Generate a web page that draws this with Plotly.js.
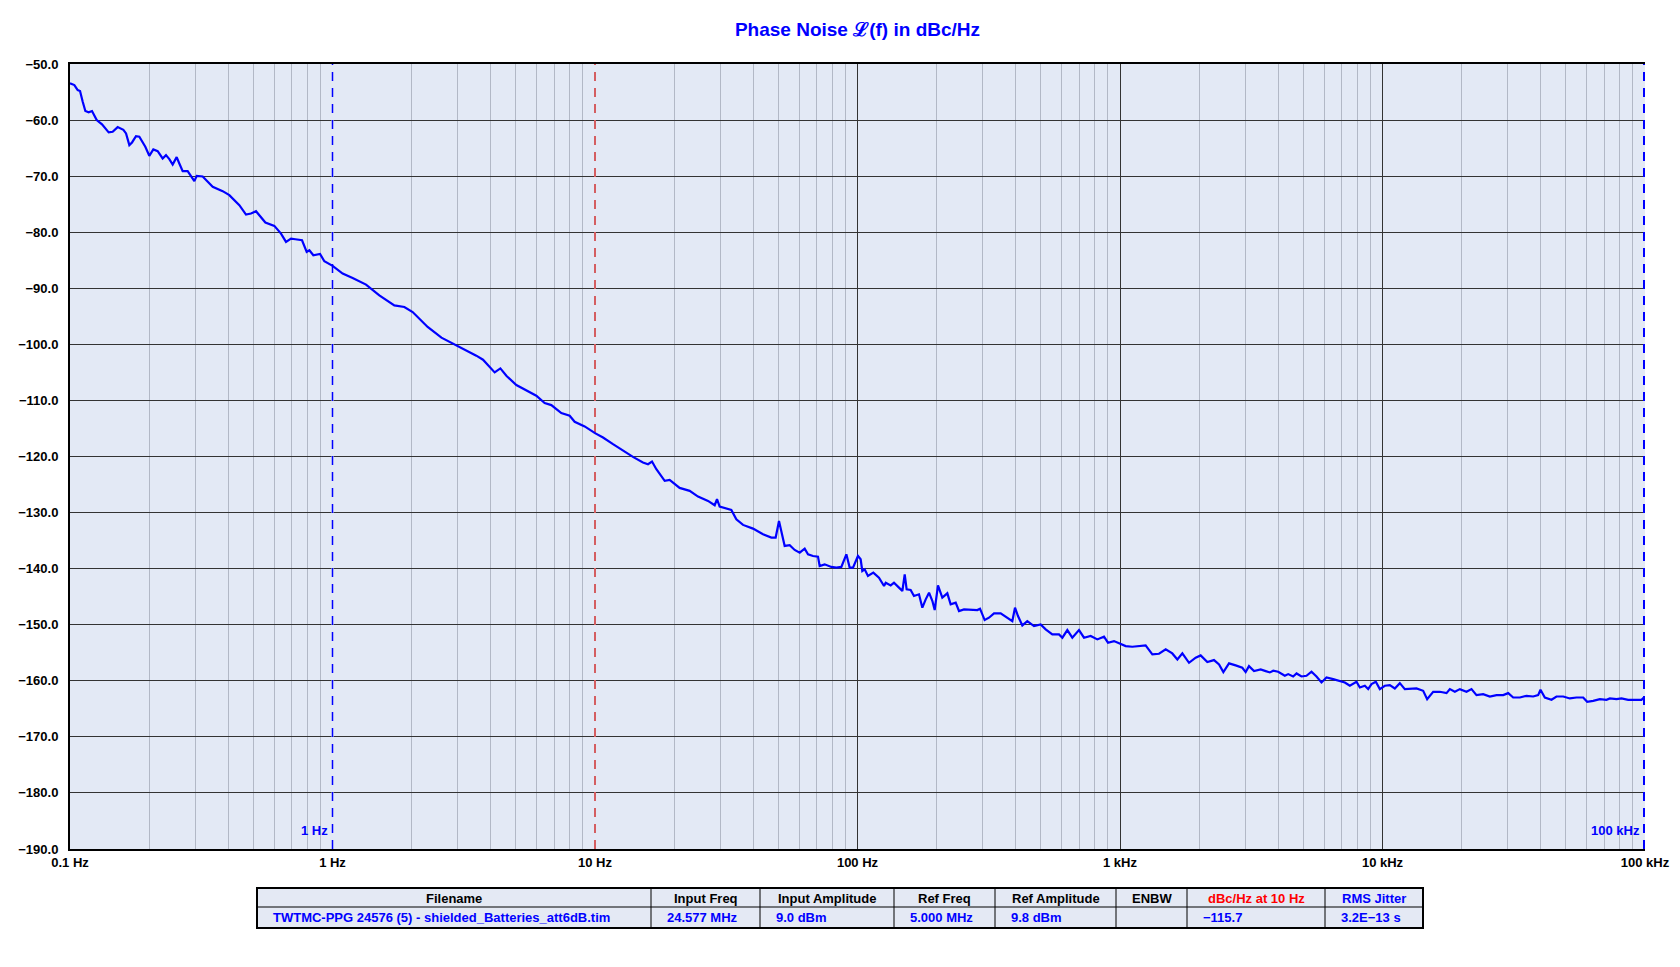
<!DOCTYPE html>
<html>
<head>
<meta charset="utf-8">
<script src="https://cdn.plot.ly/plotly-3.0.1.min.js"></script>
<style>html,body{margin:0;padding:0;background:#fff;}#chart{width:1680px;height:967px;}</style>
</head>
<body>
<div id="chart"></div>
<script>
// ---- data ----
const freqHz = [
0.1,0.1039,0.107,0.1092,0.1118,0.1144,0.1178,0.1213,0.1264,0.1324,0.1404,0.1454,0.1519,0.1597,0.1635,0.1683,0.1723,0.1784,0.1837,0.1936,
0.2005,0.2077,0.2158,0.2254,0.2321,0.239,0.2461,0.2549,0.2609,0.2687,0.2807,0.2891,0.2977,0.3039,0.3202,0.3496,0.3816,0.4046,0.4417,0.4683,
0.4891,0.5111,0.5263,0.5549,0.6004,0.6365,0.6651,0.695,0.7219,0.7654,0.7974,0.8163,0.8453,0.8964,0.9309,1.001,1.093,1.193,1.342,1.508,
1.72,1.878,2.02,2.304,2.6,2.93,3.1,
3.331,3.531,3.744,3.97,4.148,4.36,4.596,5.017,5.474,5.976,6.431,6.818,7.442,8.008,8.365,9.134,10.0,10.73,11.71,12.78,
13.95,15.23,15.92,16.49,17.13,18.43,19.25,21.01,22.94,24.69,26.95,28.57,29.16,29.85,31.64,33.06,34.55,36.64,39.99,43.65,
46.96,48.78,50.23,51.26,52.79,55.16,57.64,60.22,62.92,64.79,67.7,70.71,71.76,74.98,79.49,83.06,86.78,90.69,93.37,96.14,100.4,
102.8,104.3,106.5,109.6,114.9,120.7,126.2,128.1,133.8,137.7,143.9,148.2,151.3,153.9,159.4,164.1,171.5,176.6,181.9,187.3,
192.9,196.8,202.6,210.4,219.9,226.4,236.6,243.6,254.5,269.9,286.1,292.9,305.1,316.9,331.1,351.1,372.3,388.9,398.1,408.7,
424.5,443.6,470.3,498.6,521,552.4,585.6,603.1,630,658.2,697.9,729.2,773.1,819.7,869,900,948.7,1000,1051,1114,
1181,1252,1328,1408,1493,1582,1654,1728,1832,1942,2029,2151,2281,2384,2476,2602,2758,2924,3011,3100,3240,3435,3589,
3723,3834,4005,4245,4372,4567,4705,4913,5134,5364,5605,5856,6118,6487,6879,7186,7508,7961,8198,8564,
8819,9081,9432,9768,10206,10664,11142,11641,12163,12897,13476,14288,14796,15597,16537,17535,18055,18865,19710,20893,
21827,22806,24183,25643,27190,28832,30121,31468,33369,35383,37497,39173,39987,41532,44039,46016,48791,51729,54828,58131,
60218,63474,67293,71339,73451,77880,81376,86272,90136,94189,96985,98990,100000
];
const phaseNoiseDbcHz = [
-53.45,-53.75,-54.64,-54.82,-56.73,-58.39,-58.63,-58.39,-60.0,-60.77,-62.2,-62.08,-61.25,-61.73,-62.38,-64.46,-63.99,-62.86,-62.98,-64.76,
-66.37,-65.24,-65.54,-66.85,-66.25,-66.96,-67.92,-66.61,-67.74,-69.11,-69.11,-70.12,-70.89,-69.94,-70.06,-71.9,-72.68,-73.39,-75.18,-76.85,
-76.67,-76.25,-76.96,-78.27,-78.87,-80.24,-81.73,-81.13,-81.25,-81.43,-83.51,-83.21,-84.11,-83.87,-85.18,-86.01,-87.38,-88.15,-89.35,-91.25,
-93.04,-93.33,-94.23,-96.9,-98.8,-100.0,-100.6,
-101.43,-102.02,-102.74,-104.11,-105.0,-104.29,-105.6,-107.26,-108.15,-109.17,-110.48,-110.83,-112.26,-112.74,-113.81,-114.64,-115.83,-116.61,-117.8,-118.99,
-120.06,-121.07,-121.37,-120.89,-122.26,-124.35,-124.17,-125.6,-126.13,-127.14,-127.92,-128.69,-127.62,-128.93,-129.29,-129.52,-131.19,-132.2,-132.86,-133.87,
-134.46,-134.46,-131.49,-133.57,-135.95,-135.83,-136.67,-137.14,-136.43,-137.44,-137.74,-137.86,-139.52,-139.23,-139.7,-139.82,-139.7,-137.44,-139.82,-139.82,-137.74,
-138.33,-140.42,-140.12,-141.31,-140.71,-141.61,-143.1,-142.5,-142.98,-142.5,-143.39,-143.99,-141.01,-143.69,-143.81,-144.88,-144.58,-146.96,-145.48,-144.29,
-145.77,-147.38,-142.98,-145.18,-144.4,-146.37,-146.07,-147.56,-147.26,-147.38,-147.38,-147.14,-149.17,-148.75,-147.98,-147.98,-148.75,-149.35,-146.96,-148.45,
-150.12,-149.35,-150.24,-149.94,-150.83,-151.73,-151.73,-152.32,-150.95,-152.32,-150.95,-152.32,-152.02,-152.62,-152.14,-153.21,-152.92,-153.33,-153.81,-153.93,
-153.81,-153.69,-155.3,-155.18,-154.4,-155.12,-156.19,-155.12,-156.79,-155.89,-155.48,-156.67,-156.31,-157.08,-158.45,-156.9,-157.26,-157.68,-158.45,-157.38,-158.27,-157.98,-158.27,
-158.51,-158.21,-158.39,-159.11,-158.81,-159.23,-158.69,-159.23,-159.11,-158.39,-159.23,-160.3,-159.4,-159.7,-160.0,-160.3,-160.89,-160.18,-161.19,-160.89,
-161.49,-160.6,-160.18,-161.49,-160.89,-160.77,-161.37,-160.42,-161.49,-161.37,-161.37,-161.79,-163.27,-161.96,-161.96,-162.2,-161.49,-161.96,-161.49,-161.96,
-161.49,-162.56,-162.38,-162.8,-162.56,-162.56,-162.2,-162.98,-162.98,-162.68,-162.8,-162.56,-161.61,-162.98,-163.39,-162.8,-162.8,-163.15,-162.98,-162.98,
-163.75,-163.57,-163.27,-163.39,-163.15,-163.27,-163.15,-163.39,-163.39,-163.27,-163.39,-162.98,-163.2
];
const decadeTicks = [0.1, 1, 10, 100, 1000, 10000, 100000];
const decadeLabels = ['0.1 Hz', '1 Hz', '10 Hz', '100 Hz', '1 kHz', '10 kHz', '100 kHz'];
const markerFreqs = [1, 10, 100000];
const markerLabels = ['1 Hz', '', '100 kHz'];

const tableHeaders = ['Filename', 'Input Freq', 'Input Amplitude', 'Ref Freq', 'Ref Amplitude', 'ENBW', 'dBc/Hz at 10 Hz', 'RMS Jitter'];
const tableValues = ['TWTMC-PPG 24576 (5) - shielded_Batteries_att6dB.tim', '24.577 MHz', '9.0 dBm', '5.000 MHz', '9.8 dBm', '', '\u2212115.7', '3.2E\u221213 s'];
const tableHeaderColors = ['#000000', '#000000', '#000000', '#000000', '#000000', '#000000', '#ff0000', '#0000ff'];
const tableColumnWidths = [394, 109, 134, 101, 121, 71, 138, 98];

// ---- styling / geometry ----
const BG = '#e3e9f5';
const FONT = 'Liberation Sans, Arial, sans-serif';
const W = 1680, H = 967, ML = 70, MR = 35, MT = 64, MB = 10;
const PW = W - ML - MR, PH = H - MT - MB;
const px2x = px => (px - ML) / PW;
const px2y = py => (H - MB - py) / PH;

const minorVals = [];
for (let d = 0; d < decadeTicks.length - 1; d++) {
  for (let k = 2; k <= 9; k++) minorVals.push(decadeTicks[d] * k);
}

const traces = [
  {
    type: 'scatter', mode: 'lines', x: freqHz, y: phaseNoiseDbcHz,
    line: {color: '#0000ff', width: 2.2}, hoverinfo: 'skip'
  }
];

const shapes = [];
const annotations = [];

markerFreqs.forEach((f, i) => {
  shapes.push({type: 'line', xref: 'x', yref: 'y', x0: f, x1: f, y0: -190, y1: -50, layer: 'between',
    line: {color: BG, width: 2}});
  shapes.push({type: 'line', xref: 'x', yref: 'y', x0: f, x1: f, y0: -190, y1: -50, layer: 'between',
    line: {color: f === 10 ? '#d03030' : '#0000ff', width: f === 100000 ? 4 : 1.5, dash: '9px,7px'}});
  if (markerLabels[i]) {
    annotations.push({x: Math.log10(f), y: -186.7, xref: 'x', yref: 'y', text: markerLabels[i], showarrow: false,
      xanchor: 'right', yanchor: 'middle', xshift: -3,
      font: {family: FONT, size: 13, color: '#0000ff', weight: 'bold'}});
  }
});

// ---- info table (drawn with shapes + text) ----
const tLeft = 257, tTop = 888, tMid = 907, tBot = 928;
let tRight = tLeft;
tableColumnWidths.forEach(w => tRight += w);
shapes.push({type: 'rect', xref: 'paper', yref: 'paper', x0: px2x(tLeft), x1: px2x(tRight), y0: px2y(tBot), y1: px2y(tTop),
  fillcolor: '#e4e9f4', line: {width: 0}, layer: 'below'});
shapes.push({type: 'line', xref: 'paper', yref: 'paper', x0: px2x(tLeft), x1: px2x(tRight), y0: px2y(tMid), y1: px2y(tMid),
  line: {color: '#000000', width: 1}});
let cx = tLeft;
tableColumnWidths.forEach((w, i) => {
  if (i > 0) {
    shapes.push({type: 'line', xref: 'paper', yref: 'paper', x0: px2x(cx), x1: px2x(cx), y0: px2y(tBot), y1: px2y(tTop),
      line: {color: '#000000', width: 1}});
  }
  annotations.push({xref: 'paper', yref: 'paper', x: px2x(cx + w / 2), y: px2y((tTop + tMid) / 2 + 0.5),
    text: tableHeaders[i], showarrow: false, xanchor: 'center', yanchor: 'middle',
    font: {family: FONT, size: 13, color: tableHeaderColors[i], weight: 'bold'}});
  if (tableValues[i]) {
    annotations.push({xref: 'paper', yref: 'paper', x: px2x(cx + 14), y: px2y((tMid + tBot) / 2),
      text: tableValues[i], showarrow: false, xanchor: 'left', yanchor: 'middle',
      font: {family: FONT, size: 13, color: '#0000ff', weight: 'bold'}});
  }
  cx += w;
});
shapes.push({type: 'rect', xref: 'paper', yref: 'paper', x0: px2x(tLeft), x1: px2x(tRight), y0: px2y(tBot), y1: px2y(tTop),
  line: {color: '#000000', width: 2}});

const layout = {
  width: W, height: H,
  margin: {l: ML, r: MR, t: MT, b: MB, pad: 0},
  paper_bgcolor: '#ffffff', plot_bgcolor: BG, showlegend: false,
  title: {text: 'Phase Noise \u2112(f) in dBc/Hz', x: 0.5, xref: 'paper', xanchor: 'center',
    y: 1 - 29 / H, yref: 'container', yanchor: 'middle',
    font: {family: FONT, size: 19, color: '#0000ff', weight: 'bold'}},
  xaxis: {
    type: 'log', range: [-1, 5], domain: [0, 1],
    tickmode: 'array', tickvals: decadeTicks, ticktext: decadeLabels, ticks: '',
    tickfont: {family: FONT, size: 13, color: '#000000', weight: 'bold'},
    showgrid: true, gridcolor: '#333333', gridwidth: 1,
    minor: {tickmode: 'array', tickvals: minorVals, showgrid: true, gridcolor: '#b2b8c6', gridwidth: 1, ticks: ''},
    showline: true, linecolor: '#000000', linewidth: 2, mirror: true, zeroline: false, fixedrange: true
  },
  yaxis: {
    range: [-190, -50], domain: [px2y(849), 1],
    tickmode: 'linear', tick0: -50, dtick: 10, tickformat: '.1f', ticks: '',
    tickfont: {family: FONT, size: 13, color: '#000000', weight: 'bold'},
    ticklabelstandoff: 7,
    showgrid: true, gridcolor: '#333333', gridwidth: 1,
    showline: true, linecolor: '#000000', linewidth: 2, mirror: false, zeroline: false, fixedrange: true
  },
  shapes: shapes,
  annotations: annotations
};

Plotly.newPlot('chart', traces, layout, {displayModeBar: false, staticPlot: true});
</script>
</body>
</html>
